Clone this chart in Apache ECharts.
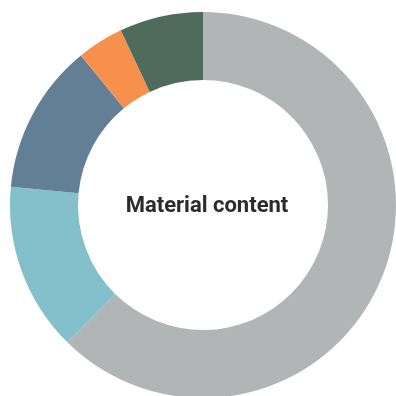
<!DOCTYPE html>
<html>
<head>
<meta charset="utf-8">
<script src="https://cdn.jsdelivr.net/npm/echarts@6/dist/echarts.min.js"></script>
<style>
  html, body { margin: 0; padding: 0; background: #fff; }
  #chart { width: 396px; height: 396px; }
</style>
</head>
<body>
<div id="chart"></div>
<script>
// slices clockwise from 12 o'clock
var names = ['Part A', 'Part B', 'Part C', 'Part D', 'Part E'];
var shares = [62.4, 14.1, 12.6, 3.9, 7.0];
var colors = ['#b2b5b5', '#84c0cb', '#627f95', '#f78f4d', '#4e6b5b'];
var centerText = 'Material content';

var myChart = echarts.init(document.getElementById('chart'));

var option = {
  animation: false,
  graphic: [
    {
      type: 'text',
      x: 207,
      y: 206,
      style: {
        text: centerText,
        align: 'center',
        verticalAlign: 'middle',
        fontFamily: 'Roboto',
        fontWeight: 'bold',
        fontSize: 22,
        fill: '#2b2b2b'
      }
    }
  ],
  series: [
    {
      type: 'pie',
      center: [203, 205],
      radius: [125, 193],
      startAngle: 90,
      clockwise: true,
      label: { show: false },
      labelLine: { show: false },
      silent: true,
      data: names.map(function (n, i) {
        return { name: n, value: shares[i], itemStyle: { color: colors[i] } };
      })
    }
  ]
};

myChart.setOption(option);
</script>
</body>
</html>
